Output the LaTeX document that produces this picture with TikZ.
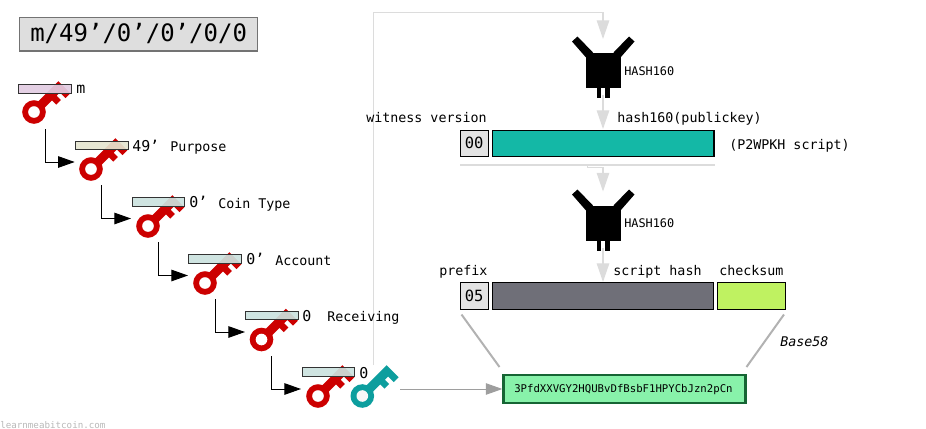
\documentclass[tikz,border=0pt]{standalone}
\usepackage{fontspec}
\setmainfont{DejaVu Sans Mono}
\usetikzlibrary{arrows.meta}
\definecolor{keyred}{HTML}{CC0000}
\definecolor{keyteal}{HTML}{0D9E9E}
\definecolor{flow}{HTML}{DCDCDC}
\definecolor{purpleb}{HTML}{E2CCE2}
\definecolor{sandb}{HTML}{E5E5D0}
\definecolor{mintb}{HTML}{CBE2DE}
\tikzset{
  x=0.75pt,y=-0.75pt,
  txt/.style={inner sep=0pt,font=\fontsize{10}{12}\selectfont,anchor=base west},
  big/.style={txt,font=\fontsize{11.2}{13}\selectfont},
  small/.style={txt,font=\fontsize{8.9}{11}\selectfont},
  keybar/.style={draw=black!80,line width=0.8pt,fill opacity=.92,draw opacity=1},
  cell/.style={draw=black,line width=0.9pt},
  elbow/.style={draw=black,line width=0.75pt,-{Triangle[length=12.4pt,width=8.6pt]}},
  flowline/.style={draw=flow,line width=0.9pt},
  flowarrow/.style={flowline,-{Triangle[length=14pt,width=9.4pt,fill=flow]}},
  pics/bitkey/.style 2 args={code={
    \begin{scope}[rotate=45]
      \fill[#1] (0,-4.5) -- (39,-4.5) -- (39,12.5) -- (32,12.5) -- (32,4.5) -- (27.5,4.5) -- (27.5,10.5) -- (21,10.5) -- (21,4.5) -- (0,4.5) -- cycle;
      \fill[#1] (0,0) circle[radius=11.8];
      \fill[#2] (0,0) circle[radius=5.8];
    \end{scope}
  }},
  pics/hashbox/.style={code={
    \fill[black] (-17,-17.5) rectangle (17.5,17);
    \fill[black] (-31,-29) -- (-25.5,-34) -- (-10,-18) -- (-17,-13) -- cycle;
    \fill[black] (31.5,-29) -- (26,-34) -- (10.5,-18) -- (17.5,-13) -- cycle;
    \fill[black] (-5.7,17) rectangle (-1.7,27);
    \fill[black] (2.3,17) rectangle (7,27);
  }}
}
\begin{document}
\begin{tikzpicture}
\useasboundingbox (0,0) rectangle (926,429);

% grey input path behind everything
\coordinate (pathstart) at (373.5,365);
\coordinate (pathtop) at (373.5,12.5);
\coordinate (hashin1) at (603,39);
\draw[flowarrow] (pathstart) -- (pathtop) -| (hashin1);
\coordinate (hashout1) at (603,95);
\coordinate (hashin1b) at (603,129);
\draw[flowarrow] (hashout1) -- (hashin1b);
\coordinate (rulel) at (460,165);
\coordinate (ruler) at (715,165);
\draw[flowline] (rulel) -- (ruler);
\coordinate (bendstart) at (587.5,165);
\coordinate (hashin2) at (603,191.5);
\draw[flowarrow] (bendstart) |- (603,167.5) -- (hashin2);
\coordinate (hashout2) at (603,248);
\coordinate (hashin2b) at (603,282);
\draw[flowarrow] (hashout2) -- (hashin2b);

% title
\node[draw=black!55,line width=0.9pt,fill=black!13,minimum width=178.5pt,minimum height=25pt,inner sep=0pt] (title) at (138.5,34.3) {};
\node[txt,font=\fontsize{18}{20}\selectfont] (titletext) at (30,41) {m/49'/0'/0'/0/0};

% key chain
\pic at (34,112) {bitkey={keyred}{white}};
\pic at (91,169) {bitkey={keyred}{white}};
\pic at (148,226) {bitkey={keyred}{white}};
\pic at (205,283) {bitkey={keyred}{white}};
\pic at (261.5,339.5) {bitkey={keyred}{white}};
\pic at (318,396) {bitkey={keyred}{white}};
\pic at (362.3,396) {bitkey={keyteal}{black!3}};

\node[keybar,fill=purpleb,minimum width=39.8pt,minimum height=6.4pt,inner sep=0pt] (k1) at (45,89) {};
\node[keybar,fill=sandb,minimum width=39.8pt,minimum height=6.2pt,inner sep=0pt] (k2) at (102,145.6) {};
\node[keybar,fill=mintb,minimum width=39.2pt,minimum height=6.4pt,inner sep=0pt] (k3) at (158.5,202) {};
\node[keybar,fill=mintb,minimum width=39.8pt,minimum height=6.4pt,inner sep=0pt] (k4) at (215.2,259) {};
\node[keybar,fill=mintb,minimum width=39.8pt,minimum height=6.2pt,inner sep=0pt] (k5) at (272,315.6) {};
\node[keybar,fill=mintb,minimum width=39.2pt,minimum height=6.2pt,inner sep=0pt] (k6) at (328.7,372) {};

% elbows
\coordinate (e1a) at (45.3,129);   \coordinate (e1b) at (74.7,162);
\coordinate (e2a) at (101.5,185);  \coordinate (e2b) at (131,218.5);
\coordinate (e3a) at (158,242);    \coordinate (e3b) at (188,275.5);
\coordinate (e4a) at (215,299);    \coordinate (e4b) at (245,332);
\coordinate (e5a) at (271.7,356);  \coordinate (e5b) at (301,389);
\draw[elbow] (e1a) |- (e1b);
\draw[elbow] (e2a) |- (e2b);
\draw[elbow] (e3a) |- (e3b);
\draw[elbow] (e4a) |- (e4b);
\draw[elbow] (e5a) |- (e5b);

% key labels
\node[big] (lm) at (76,93.5) {m};
\node[big] (l49) at (132,151) {49'};
\node[txt] (lpurpose) at (170,151) {Purpose};
\node[big] (l0a) at (189,207.5) {0'};
\node[txt] (lcoin) at (218,208) {Coin Type};
\node[big] (l0b) at (246,264.5) {0'};
\node[txt] (lacct) at (275,265) {Account};
\node[big] (l0c) at (302,321.5) {0};
\node[txt] (lrecv) at (327,321) {Receiving};
\node[big] (l0d) at (359,378) {0};

% hash functions
\pic at (603,70.5) {hashbox};
\pic at (603,223.5) {hashbox};
\node[small] (h1) at (624,75) {HASH160};
\node[small] (h2) at (624,227) {HASH160};

% top row
\node[txt] (lwit) at (366,122) {witness version};
\node[txt] (lhash) at (617,122) {hash160(publickey)};
\node[txt] (lp2) at (729,149) {(P2WPKH script)};
\node[cell,fill=black!11,minimum width=21pt,minimum height=19.5pt,inner sep=0pt] (c00) at (474.5,143.5) {};
\node[txt,font=\fontsize{11.6}{14}\selectfont] (t00) at (464.5,148.5) {00};
\draw[cell,fill={rgb,255:red,20;green,184;blue,166}] (492.5,130.5) rectangle (714,156.5);

% bottom row
\node[txt] (lprefix) at (439,275) {prefix};
\node[txt] (lscript) at (613,275) {script hash};
\node[txt] (lcheck) at (719,275) {checksum};
\node[cell,fill=black!11,minimum width=21.4pt,minimum height=20pt,inner sep=0pt] (c05) at (474.5,296) {};
\node[txt,font=\fontsize{11.6}{14}\selectfont] (t05) at (464.5,301) {05};
\draw[cell,fill={rgb,255:red,111;green,111;blue,120}] (492.5,282.5) rectangle (713.5,309.5);
\draw[cell,fill={rgb,255:red,191;green,242;blue,97}] (717.5,282.5) rectangle (785.5,309.5);

% base58 address
\node[draw={rgb,255:red,22;green,101;blue,52},line width=2.2pt,fill={rgb,255:red,136;green,242;blue,170},minimum width=181pt,minimum height=21pt,inner sep=0pt] (addr) at (624.5,389) {};
\node[txt,font=\fontsize{8}{10}\selectfont] (taddr) at (514,392) {3PfdXXVGY2HQUBvDfBsbF1HPYCbJzn2pCn};
\coordinate (d1a) at (461.5,314.5); \coordinate (d1b) at (499.5,367);
\coordinate (d2a) at (784,314.5);   \coordinate (d2b) at (746.5,367);
\draw[black!30,line width=1.5pt] (d1a) -- (d1b);
\draw[black!30,line width=1.5pt] (d2a) -- (d2b);
\node[txt,font=\fontsize{10}{12}\selectfont\itshape] (lb58) at (780,346) {Base58};
\coordinate (keyout) at (400,389);
\draw[black!38,line width=0.75pt,-{Triangle[length=12.4pt,width=8.6pt]}] (keyout) -- (addr.west);

\node[txt,text=black!28,font=\fontsize{6.9}{8}\selectfont] (credit) at (0,428) {learnmeabitcoin.com};
\end{tikzpicture}
\end{document}
